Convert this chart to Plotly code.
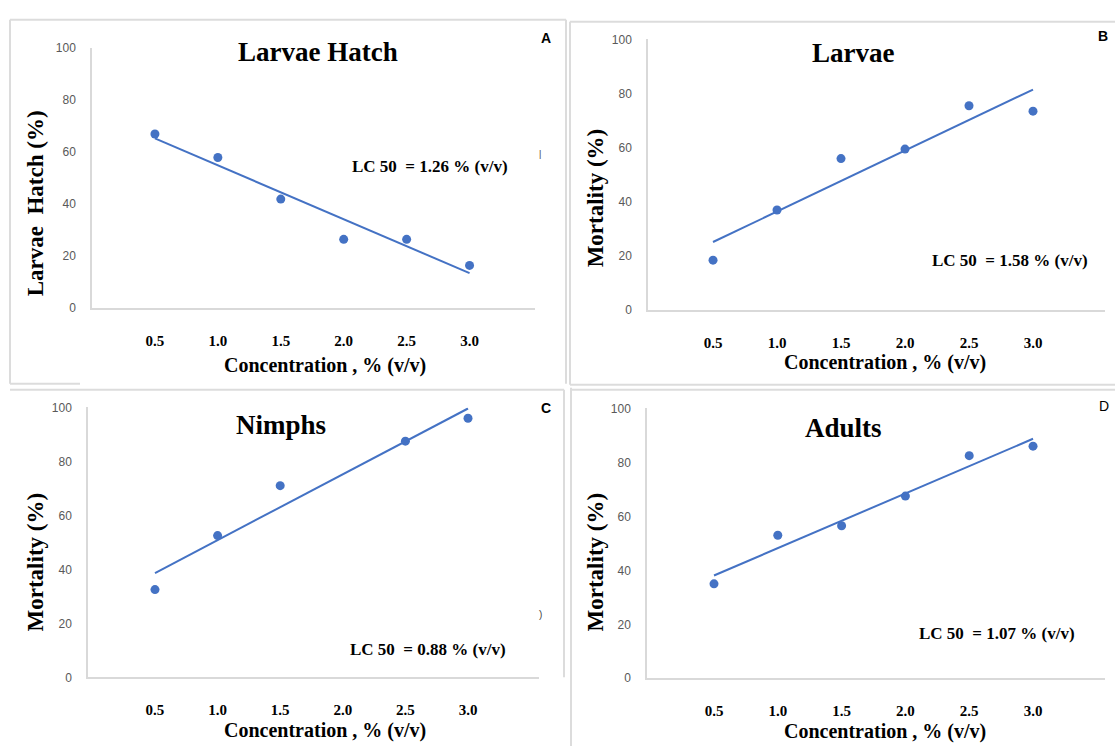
import numpy as np
import plotly.graph_objects as go

W, H = 1115, 753

# ---- data ----
conc_ticks = [0.5, 1.0, 1.5, 2.0, 2.5, 3.0]
tick_text = ["0.5", "1.0", "1.5", "2.0", "2.5", "3.0"]

a_x = [0.5, 1.0, 1.5, 2.0, 2.5, 3.0]
a_y = [67, 58, 42, 26.5, 26.5, 16.5]

b_x = [0.5, 1.0, 1.5, 2.0, 2.5, 3.0]
b_y = [18.5, 37, 56, 59.5, 75.5, 73.5]

c_x = [0.5, 1.0, 1.5, 2.5, 3.0]
c_y = [32.5, 52.5, 71, 87.5, 96]

d_x = [0.5, 1.0, 1.5, 2.0, 2.5, 3.0]
d_y = [35, 53, 56.5, 67.5, 82.5, 86]

titles = ["Larvae Hatch", "Larvae", "Nimphs", "Adults"]
ytitles = ["Larvae  Hatch (%)", "Mortality (%)", "Mortality (%)", "Mortality (%)"]
lc_texts = ["LC 50  = 1.26 % (v/v)", "LC 50  = 1.58 % (v/v)",
            "LC 50  = 0.88 % (v/v)", "LC 50  = 1.07 % (v/v)"]
letters = ["A", "B", "C", "D"]
xtitle = "Concentration , % (v/v)"

BLUE = "#4472C4"
GRID = "#d9d9d9"
SERIF = "Liberation Serif, Times New Roman, serif"
SANS = "Liberation Sans, Arial, sans-serif"


def px(x):
    return x / W


def py(y):
    return 1 - y / H


# layout geometry per panel (pixels): x-axis left/right, y top(100)/bottom(0), x range
panels = [
    dict(xl=92, xr=535, yt=42, yb=307, rng=[0, 3.52],
         title=(318, 46), ytit=(35, 200), xtit=(325, 365), lc=(430, 163), let=(546, 32)),
    dict(xl=648, xr=1105, yt=33, yb=309, rng=[-0.008, 3.5625],
         title=(853, 47), ytit=(595, 195), xtit=(885, 362), lc=(1010, 258), let=(1103, 30)),
    dict(xl=88, xr=539, yt=408, yb=683, rng=[-0.035, 3.567],
         title=(281, 426), ytit=(35, 566), xtit=(325, 737), lc=(428, 655), let=(546, 409)),
    dict(xl=647, xr=1105, yt=409, yb=684, rng=[-0.025, 3.564],
         title=(843, 429), ytit=(595, 566), xtit=(885, 738), lc=(997, 638), let=(1104, 407)),
]

series = [(a_x, a_y), (b_x, b_y), (c_x, c_y), (d_x, d_y)]

fig = go.Figure()
annotations = []
shapes = []

for i, (p, (xs, ys)) in enumerate(zip(panels, series)):
    n = "" if i == 0 else str(i + 1)
    xa, ya = "x" + n, "y" + n
    # points
    fig.add_trace(go.Scatter(x=xs, y=ys, mode="markers", xaxis=xa, yaxis=ya,
                             marker=dict(color=BLUE, size=9), showlegend=False,
                             cliponaxis=False))
    # linear trendline from the data
    k, b0 = np.polyfit(xs, ys, 1)
    tx = np.array([min(xs), max(xs)])
    fig.add_trace(go.Scatter(x=tx, y=k * tx + b0, mode="lines", xaxis=xa, yaxis=ya,
                             line=dict(color=BLUE, width=2), showlegend=False))

    fig.update_layout(**{
        "xaxis" + n: dict(domain=[px(p["xl"]), px(p["xr"])], range=p["rng"],
                          anchor=ya, tickvals=conc_ticks, ticktext=tick_text,
                          showgrid=False, zeroline=False, showline=True,
                          linecolor=GRID, linewidth=1.5, ticks="",
                          ticklabelstandoff=18,
                          tickfont=dict(family=SERIF, size=15, color="black", weight="bold")),
        "yaxis" + n: dict(domain=[py(p["yb"]), py(p["yt"])], range=[0, 100],
                          anchor=xa, tickvals=[0, 20, 40, 60, 80, 100],
                          showgrid=False, zeroline=False, showline=True,
                          linecolor=GRID, linewidth=1.5, ticks="",
                          ticklabelstandoff=12,
                          tickfont=dict(family=SANS, size=12, color="#595959")),
    })

    annotations.append(dict(x=px(p["title"][0]), y=py(p["title"][1]), xref="paper", yref="paper",
                            text="<b>" + titles[i] + "</b>", showarrow=False,
                            font=dict(family=SERIF, size=27, color="black"),
                            xanchor="center", yanchor="middle"))
    annotations.append(dict(x=px(p["ytit"][0]), y=py(p["ytit"][1]), xref="paper", yref="paper",
                            text="<b>" + ytitles[i] + "</b>", showarrow=False, textangle=-90,
                            font=dict(family=SERIF, size=23, color="black"),
                            xanchor="center", yanchor="middle"))
    annotations.append(dict(x=px(p["xtit"][0]), y=py(p["xtit"][1]), xref="paper", yref="paper",
                            text="<b>" + xtitle + "</b>", showarrow=False,
                            font=dict(family=SERIF, size=20, color="black"),
                            xanchor="center", yanchor="middle"))
    annotations.append(dict(x=px(p["lc"][0]), y=py(p["lc"][1]), xref="paper", yref="paper",
                            text="<b>" + lc_texts[i] + "</b>", showarrow=False,
                            font=dict(family=SERIF, size=17, color="black"),
                            xanchor="center", yanchor="middle"))
    annotations.append(dict(x=px(p["let"][0]), y=py(p["let"][1]), xref="paper", yref="paper",
                            text=("<b>" + letters[i] + "</b>") if i < 3 else letters[i],
                            showarrow=False,
                            font=dict(family=SANS, size=14, color="black"),
                            xanchor="center", yanchor="middle"))

# small stray marks in the original composite
annotations.append(dict(x=px(540), y=py(143), xref="paper", yref="paper", text="|",
                        showarrow=False, font=dict(family=SANS, size=9, color="#444")))
annotations.append(dict(x=px(540), y=py(627), xref="paper", yref="paper", text=")",
                        showarrow=False, font=dict(family=SANS, size=10, color="#444")))

# panel frame lines (pixels)
frame_lines = [
    (10, 13, 10, 384), (10, 13, 566, 13), (566, 13, 566, 384), (10, 384, 80, 384),
    (570, 15, 570, 385), (570, 15, 1115, 15), (570, 385, 1115, 385),
    (10, 390, 564, 390), (564, 390, 564, 683),
    (571, 388, 571, 753), (571, 390, 1115, 390),
]
for (x0, y0, x1, y1) in frame_lines:
    shapes.append(dict(type="line", xref="paper", yref="paper",
                       x0=px(x0), y0=py(y0), x1=px(x1), y1=py(y1),
                       line=dict(color="#dcdcdc", width=2)))

fig.update_layout(width=W, height=H, margin=dict(l=0, r=0, t=0, b=0),
                  paper_bgcolor="white", plot_bgcolor="white",
                  annotations=annotations, shapes=shapes, showlegend=False)

fig.write_html("out.html", config={"displayModeBar": False},
               post_script="document.body.style.margin='0';"
                           "document.body.style.overflow='hidden';")
